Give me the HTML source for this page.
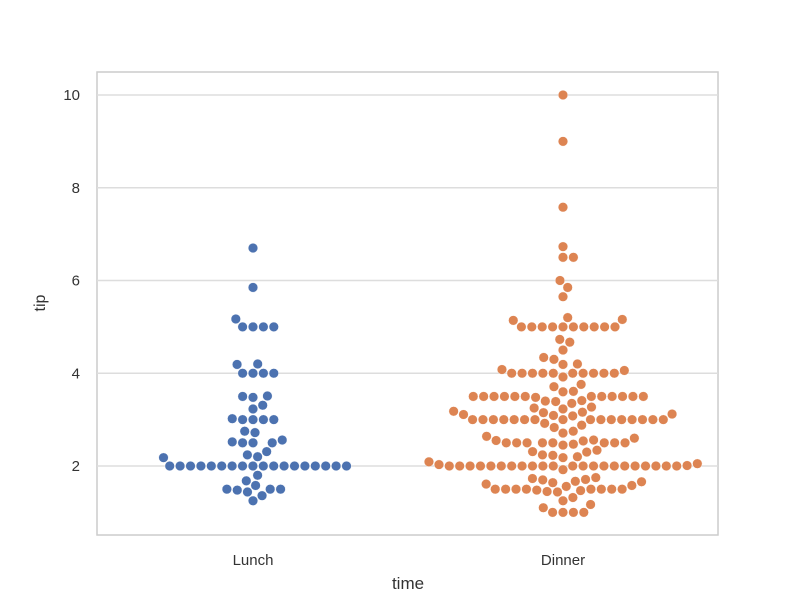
<!DOCTYPE html>
<html><head><meta charset="utf-8"><style>
body{margin:0;background:#fff;}
svg{display:block;font-family:"Liberation Sans",sans-serif;}
</style></head><body>
<svg id="chart" width="800" height="600">
<rect x="97" y="72" width="621" height="463" fill="#fff" stroke="#cccccc" stroke-width="1.5"/>
<g id="grid"></g>
<g id="yticks"></g>
<g id="xticks"></g>
<g id="pts"></g>
<text x="45" y="303" font-size="16" fill="#333" text-anchor="middle" transform="rotate(-90 45 303)">tip</text>
<text x="408" y="589" font-size="17" fill="#333" text-anchor="middle">time</text>
</svg>
<script>
const categories=["Lunch","Dinner"];
const yTicks=[2,4,6,8,10];
const lunchTips=[6.7,5.85,5.17,5,5,5,5,4.2,4.19,4,4,4,4,3.51,3.5,3.48,3.31,3.23,3,3,3,3,3.02,2.75,2.72,2.56,2.5,2.5,2.5,2.52,2.31,2.24,2.2,2.18,2,2,2,2,2,2,2,2,2,2,2,2,2,2,2,2,2,2,1.8,1.68,1.58,1.5,1.5,1.5,1.48,1.44,1.36,1.25];
const dinnerTips=[10,9,7.58,6.73,6.5,6.5,6,5.85,5.65,5.2,5.16,5.14,5,5,5,5,5,5,5,5,5,5,4.73,4.67,4.5,4.3,4.34,4.2,4.19,4.08,4.06,4,4,4,4,4,4,4,4,4,4,3.92,3.76,3.71,3.6,3.61,3.5,3.5,3.5,3.5,3.5,3.5,3.5,3.5,3.5,3.5,3.5,3.5,3.48,3.41,3.4,3.39,3.35,3.27,3.25,3.23,3.18,3.16,3.15,3.12,3.11,3.09,3.08,3,3,3,3,3,3,3,3,3,3,3,3,3,3,3,3,2.92,2.88,2.83,2.75,2.71,2.64,2.6,2.56,2.55,2.54,2.5,2.5,2.5,2.5,2.5,2.5,2.5,2.5,2.47,2.45,2.34,2.31,2.3,2.24,2.23,2.2,2.18,2.09,2.05,2.03,2.01,2,2,2,2,2,2,2,2,2,2,2,2,2,2,2,2,2,2,2,2,2,2,1.92,1.75,1.73,1.71,1.7,1.67,1.66,1.64,1.61,1.58,1.56,1.5,1.5,1.5,1.5,1.5,1.5,1.5,1.5,1.48,1.47,1.45,1.44,1.32,1.25,1.17,1.1,1,1,1,1];
const colors=["#4c72b0","#dd8452"];
const NS="http://www.w3.org/2000/svg";
const yScale=v=>466-(v-2)*46.375;
const xScale=i=>253+i*310;
function mk(t,a){const e=document.createElementNS(NS,t);for(const k in a)e.setAttribute(k,a[k]);return e;}
const grid=document.getElementById('grid'),yt=document.getElementById('yticks'),xt=document.getElementById('xticks'),pts=document.getElementById('pts');
yTicks.forEach(v=>{
 const l=mk('line',{x1:97,x2:718,y1:yScale(v),y2:yScale(v),stroke:'#dddddd','stroke-width':1.5});
 
 
 grid.appendChild(l);
 const t=mk('text',{x:80,y:yScale(v)+5,'font-size':15,fill:'#333','text-anchor':'end'});
 t.textContent=v;
 
 
 yt.appendChild(t);
});
categories.forEach((c,i)=>{
 const t=mk('text',{x:xScale(i),y:565,'font-size':15,fill:'#333','text-anchor':'middle'});
 t.textContent=c;
 
 
 xt.appendChild(t);
});
const D=10.4;
function swarm(vals){
 const ys=vals.map(yScale).sort((a,b)=>b-a);
 const placed=[];
 ys.forEach(y=>{
  const near=placed.filter(p=>Math.abs(p.y-y)<D);
  let cands=[0];
  near.forEach(p=>{const dx=Math.sqrt(D*D-(p.y-y)**2);cands.push(p.x+dx,p.x-dx);});
  cands.sort((a,b)=>Math.abs(a)-Math.abs(b));
  let x=0;
  for(const c of cands){if(near.every(p=>(p.x-c)**2+(p.y-y)**2>=D*D-0.01)){x=c;break;}}
  placed.push({x,y});
 });
 return placed;
}
[lunchTips,dinnerTips].forEach((vals,i)=>{
 swarm(vals).forEach(p=>{
  const c=mk('circle',{cx:xScale(i)+p.x,cy:p.y,r:4.8,fill:colors[i],stroke:'#fff','stroke-width':0.4});
  
  
  pts.appendChild(c);
 });
});
</script>
</body></html>
